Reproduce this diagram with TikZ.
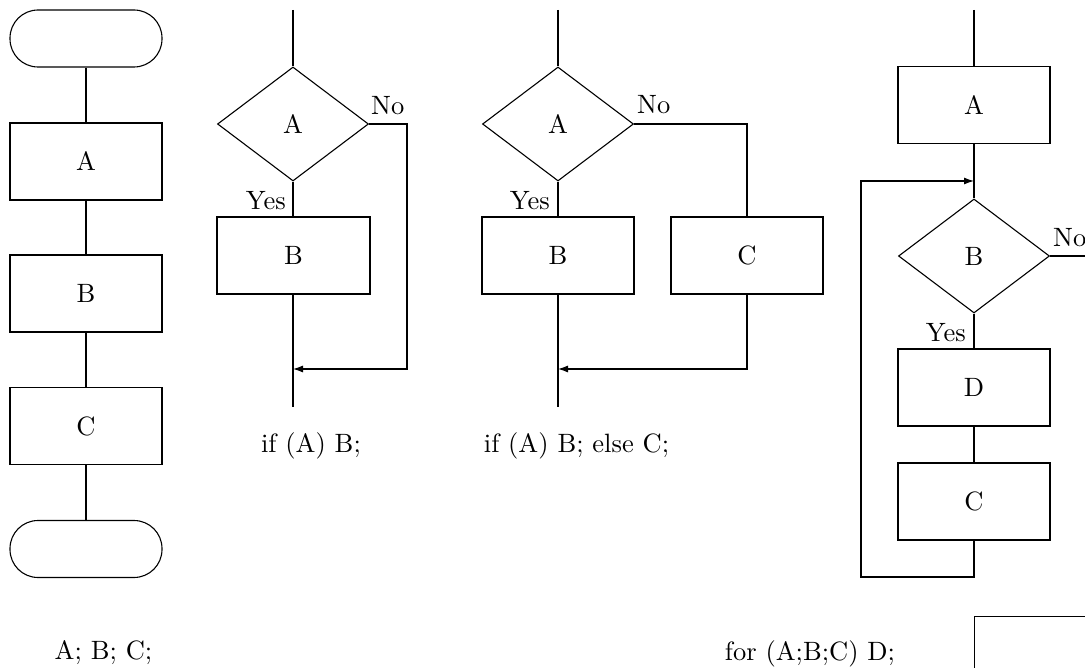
\documentclass[tikz,border=0pt]{standalone}
\usepackage{fontspec}
\setmainfont{lmroman10-regular.otf}
\usetikzlibrary{shapes.geometric,arrows.meta}
\newcommand{\lblfont}{\fontsize{26.5}{30}\selectfont}
\begin{document}
\begin{tikzpicture}[x=1pt,y=-1pt,
  basebox/.style={draw, line width=1.1pt, inner sep=0pt, font=\lblfont},
  proc/.style={basebox, rectangle, minimum width=152pt, minimum height=77pt},
  term/.style={basebox, rectangle, rounded corners=28pt, minimum width=152pt, minimum height=57pt},
  decision/.style={basebox, diamond, minimum width=151pt, minimum height=114pt},
  conn/.style={line width=1.1pt},
  arr/.style={conn, -{Latex[length=10pt,width=7pt]}},
  lab/.style={font=\lblfont, inner sep=0pt}]
\clip (0,0) rectangle (1085,668);
% ---------- column 1: sequence ----------
\node[term] (t1) at (86,38.5) {};
\node[proc] (a1) at (86,161.5) {A};
\node[proc] (b1) at (86,293.5) {B};
\node[proc] (c1) at (86,426) {C};
\node[term] (t2) at (86,549) {};
\draw[conn] (t1) -- (a1) (a1) -- (b1) (b1) -- (c1) (c1) -- (t2);
\node[lab, anchor=base] (cap1) at (103.5,659) {A; B; C;};
% ---------- column 2: if ----------
\coordinate (s2) at (293,10);
\node[decision] (d2) at (293,124) {A};
\node[proc, minimum width=153pt] (b2) at (293.5,255.5) {B};
\coordinate (r2) at (407,124);
\coordinate (m2) at (293,369);
\coordinate (e2) at (293,407);
\draw[conn] (s2) -- (d2.north);
\draw[conn] (d2.south) -- (d2.south |- b2.north);
\draw[conn] (b2.south -| e2) -- (e2);
\draw[arr] (d2.east) -- (r2) |- (m2);
\node[lab, anchor=base east] (y2) at (286,210) {Yes};
\node[lab, anchor=base west] (n2) at (371,115) {No};
\node[lab, anchor=base] (cap2) at (311,453) {if (A) B;};
% ---------- column 3: if else ----------
\coordinate (s3) at (558,10);
\node[decision] (d3) at (558,124) {A};
\node[proc] (b3) at (558,255.5) {B};
\node[proc] (c3) at (747,255.5) {C};
\coordinate (m3) at (558,369);
\coordinate (e3) at (558,407);
\draw[conn] (s3) -- (d3.north);
\draw[conn] (d3.south) -- (b3.north);
\draw[conn] (b3.south) -- (e3);
\draw[conn] (d3.east) -| (c3.north);
\draw[arr] (c3.south) |- (m3);
\node[lab, anchor=base east] (y3) at (550,210) {Yes};
\node[lab, anchor=base west] (n3) at (637,114) {No};
\node[lab, anchor=base] (cap3) at (576.5,453) {if (A) B; else C;};
% ---------- column 4: for ----------
\coordinate (s4) at (974,10);
\node[proc] (a4) at (974,105) {A};
\node[decision] (d4) at (974,256) {B};
\node[proc] (dd4) at (974,387.5) {D};
\node[proc] (c4) at (974,501.5) {C};
\coordinate (x4) at (1095,256);
\coordinate (lb) at (861,577);
\coordinate (lj) at (974,181);
\draw[conn] (s4) -- (a4.north);
\draw[conn] (a4.south) -- (d4.north);
\draw[conn] (d4.south) -- (dd4.north);
\draw[conn] (dd4.south) -- (c4.north);
\draw[conn] (d4.east) -- (x4);
\draw[arr] (c4.south) |- (lb) |- (lj);
\node[lab, anchor=base east] (y4) at (966,342) {Yes};
\node[lab, anchor=base west] (n4) at (1053,247) {No};
\node[lab, anchor=base] (cap4) at (810,660) {for (A;B;C) D;};
\node[basebox, rectangle, anchor=north west, minimum width=152pt, minimum height=77pt] (ex4) at (974,616) {};
\end{tikzpicture}
\end{document}
